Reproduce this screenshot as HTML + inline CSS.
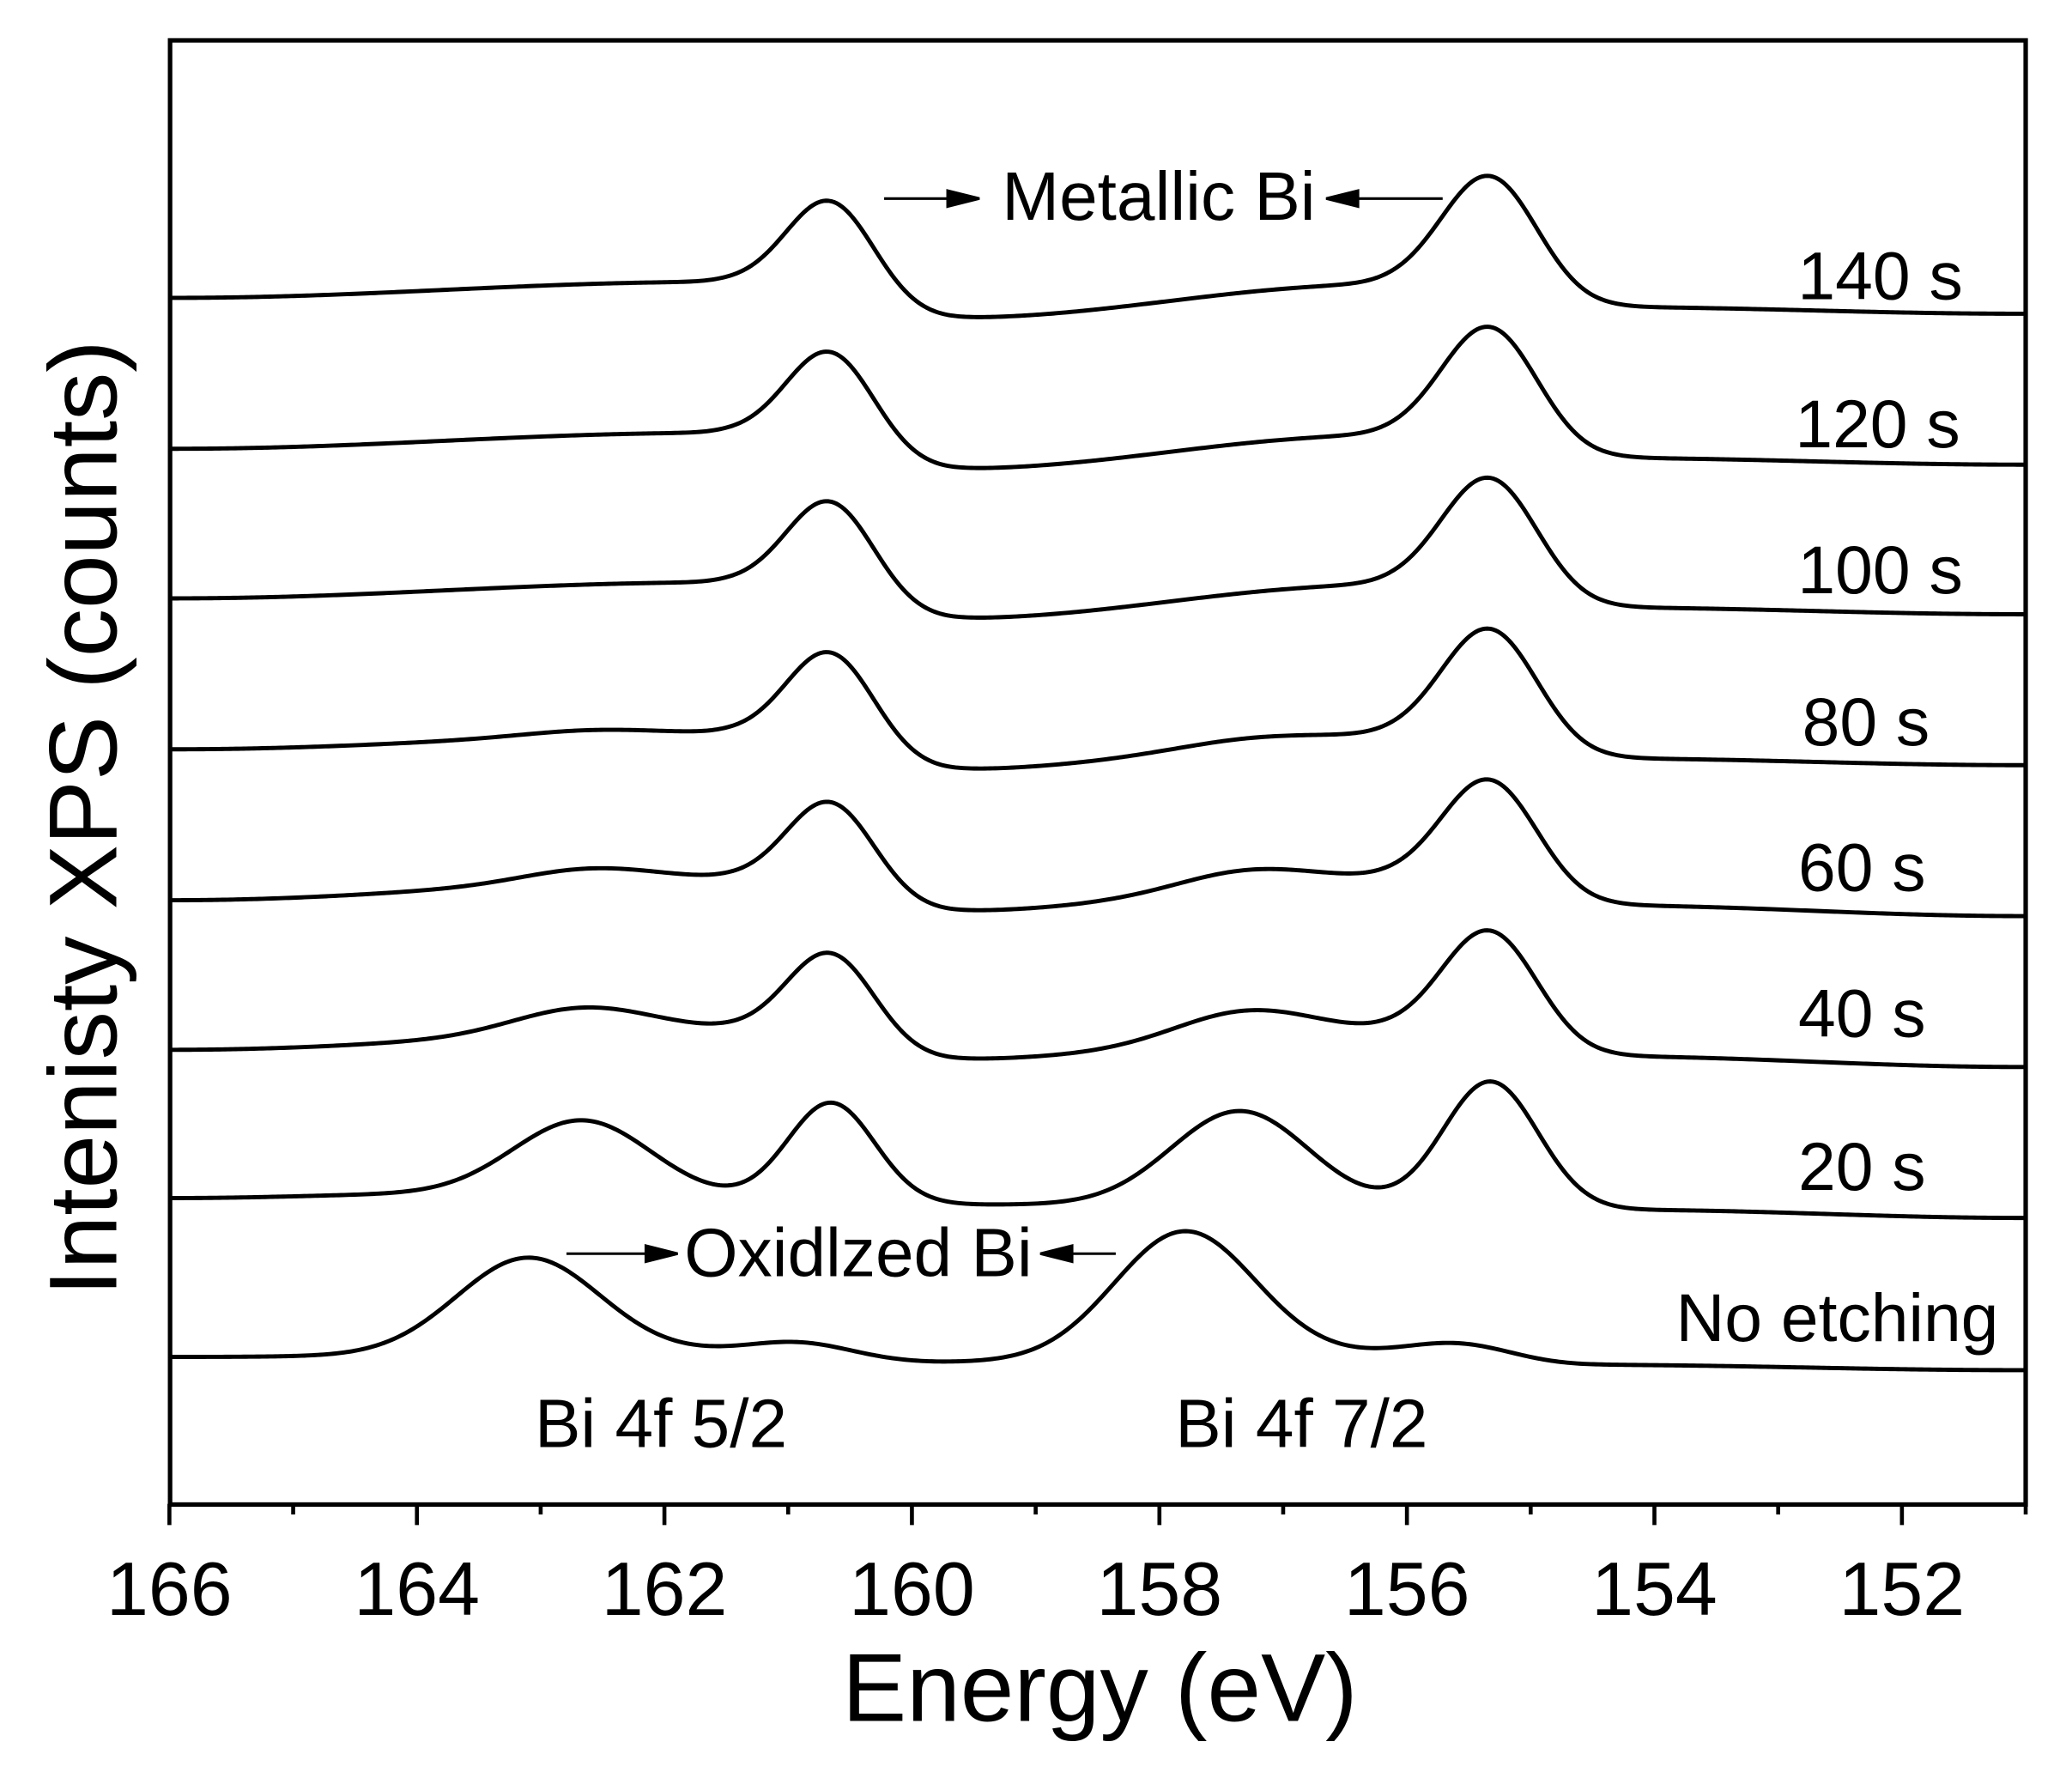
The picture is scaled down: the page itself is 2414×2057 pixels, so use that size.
<!DOCTYPE html>
<html><head><meta charset="utf-8"><style>
html,body{margin:0;padding:0;background:#fff;}
svg{display:block;}
text{font-family:"Liberation Sans",Arial,sans-serif;fill:#000;}
</style></head><body>
<svg id="s" width="2414" height="2057" viewBox="0 0 1565.5 1334" preserveAspectRatio="none" xmlns="http://www.w3.org/2000/svg">
<rect x="0" y="0" width="1565.5" height="1334" fill="#fff"/>
<g id="curves" fill="none" stroke="#000" stroke-width="3.2" stroke-linejoin="round"></g>
<rect x="128.5" y="30.5" width="1402" height="1106" fill="none" stroke="#000" stroke-width="3.4"/>
<g id="ticks" stroke="#000" stroke-width="3"></g>
<g font-size="57" text-anchor="middle">
<text x="128" y="1220">166</text><text x="315" y="1220">164</text><text x="502" y="1220">162</text><text x="689" y="1220">160</text><text x="876" y="1220">158</text><text x="1063" y="1220">156</text><text x="1250" y="1220">154</text><text x="1437" y="1220">152</text>
</g>
<text x="831" y="1300" font-size="73" text-anchor="middle">Energy (eV)</text>
<text transform="translate(88,618) rotate(-90)" font-size="73" text-anchor="middle">Intenisty XPS (counts)</text>
<g font-size="51" text-anchor="end">
<text x="1483" y="226">140 s</text>
<text x="1481" y="338">120 s</text>
<text x="1483" y="448">100 s</text>
<text x="1458" y="563">80 s</text>
<text x="1455" y="673">60 s</text>
<text x="1455" y="783">40 s</text>
<text x="1455" y="899">20 s</text>
<text x="1510" y="1013">No etching</text>
</g>
<g font-size="52">
<text x="757" y="166">Metallic Bi</text>
<text x="517" y="964">Oxidlzed Bi</text>
<text x="404" y="1093">Bi 4f 5/2</text>
<text x="888" y="1093">Bi 4f 7/2</text>
</g>
<g stroke="#000" stroke-width="2">
<line x1="668" y1="150" x2="720" y2="150"/><polygon points="740,150 716,144 716,156" fill="#000"/>
<line x1="1090" y1="150" x2="1022" y2="150"/><polygon points="1002,150 1026,144 1026,156" fill="#000"/>
<line x1="428" y1="947" x2="492" y2="947"/><polygon points="512,947 488,941 488,953" fill="#000"/>
<line x1="843" y1="947" x2="806" y2="947"/><polygon points="786,947 810,941 810,953" fill="#000"/>
</g>
</svg>
<script>
(function(){
var NS="http://www.w3.org/2000/svg";
function X(E){return 128+(166-E)*93.5;}
var tk=document.getElementById('ticks');
for(var E=166;E>=151;E--){
 var x=X(E), major=(E%2==0);
 var l=document.createElementNS(NS,'line');
 l.setAttribute('x1',x);l.setAttribute('x2',x);
 l.setAttribute('y1',1136);l.setAttribute('y2',major?1152:1144);
 tk.appendChild(l);
}
function interp(a,x){
 if(x<=a[0][0])return a[0][1];
 for(var i=0;i<a.length-1;i++){
  if(x<=a[i+1][0]){var t=(x-a[i][0])/(a[i+1][0]-a[i][0]);t=(1-Math.cos(Math.PI*t))/2;return a[i][1]+(a[i+1][1]-a[i][1])*t;}
 }
 return a[a.length-1][1];
}
var curves=[];
for(var k=0;k<4;k++){
 var o=[0,114,227,341][k];
 var a=[[130,225+o],[540,213+o],[720,240+o],[1045,215+o],[1210,232+o],[1530,237+o]];
 var p=[[628,152+[0,114,227,341][k],33],[1126,133+[0,114,228,342][k],36]];
 var ox=[];
 if(k==3){ox=[[445,4,50],[940,4,50]];}
 curves.push({a:a,p:p,ox:ox});
}
curves.push({a:[[130,680],[540,664],[720,688],[1040,664],[1210,684],[1530,692]],p:[[628,606,33],[1126,589,36]],ox:[[445,10,50],[940,12,50]]});
curves.push({a:[[130,793],[540,778],[720,800],[1040,780],[1210,798],[1530,806]],p:[[628,720,33],[1126,703,36]],ox:[[440,19,52],[940,21,52]]});
curves.push({a:[[130,905],[330,902],[760,910],[1230,914],[1530,920]],p:[[628,833,33],[1126,817,36]],ox:[[440,57,52],[937,72,52]]});
curves.push({a:[[130,1025],[520,1022],[710,1029],[1030,1024],[1200,1031],[1530,1035]],p:[[399,950,54],[895,930,53]],ox:[[605,11,40],[1103,12,40]]});
var g=document.getElementById('curves');
curves.forEach(function(c){
 var pk=c.p.map(function(q){
  var amp=interp(c.a,q[0])-q[1];
  return [q[0],amp,q[2]];
 });
 var all=pk.concat(c.ox);
 var d='';
 for(var x=130;x<=1530;x+=2){
  var y=interp(c.a,x);
  all.forEach(function(q){var u=(x-q[0])/q[2];y-=q[1]*Math.exp(-0.5*u*u);});
  d+=(x==130?'M':'L')+x+' '+y.toFixed(2);
 }
 var p=document.createElementNS(NS,'path');p.setAttribute('d',d);g.appendChild(p);
});
})();
</script>
</body></html>
